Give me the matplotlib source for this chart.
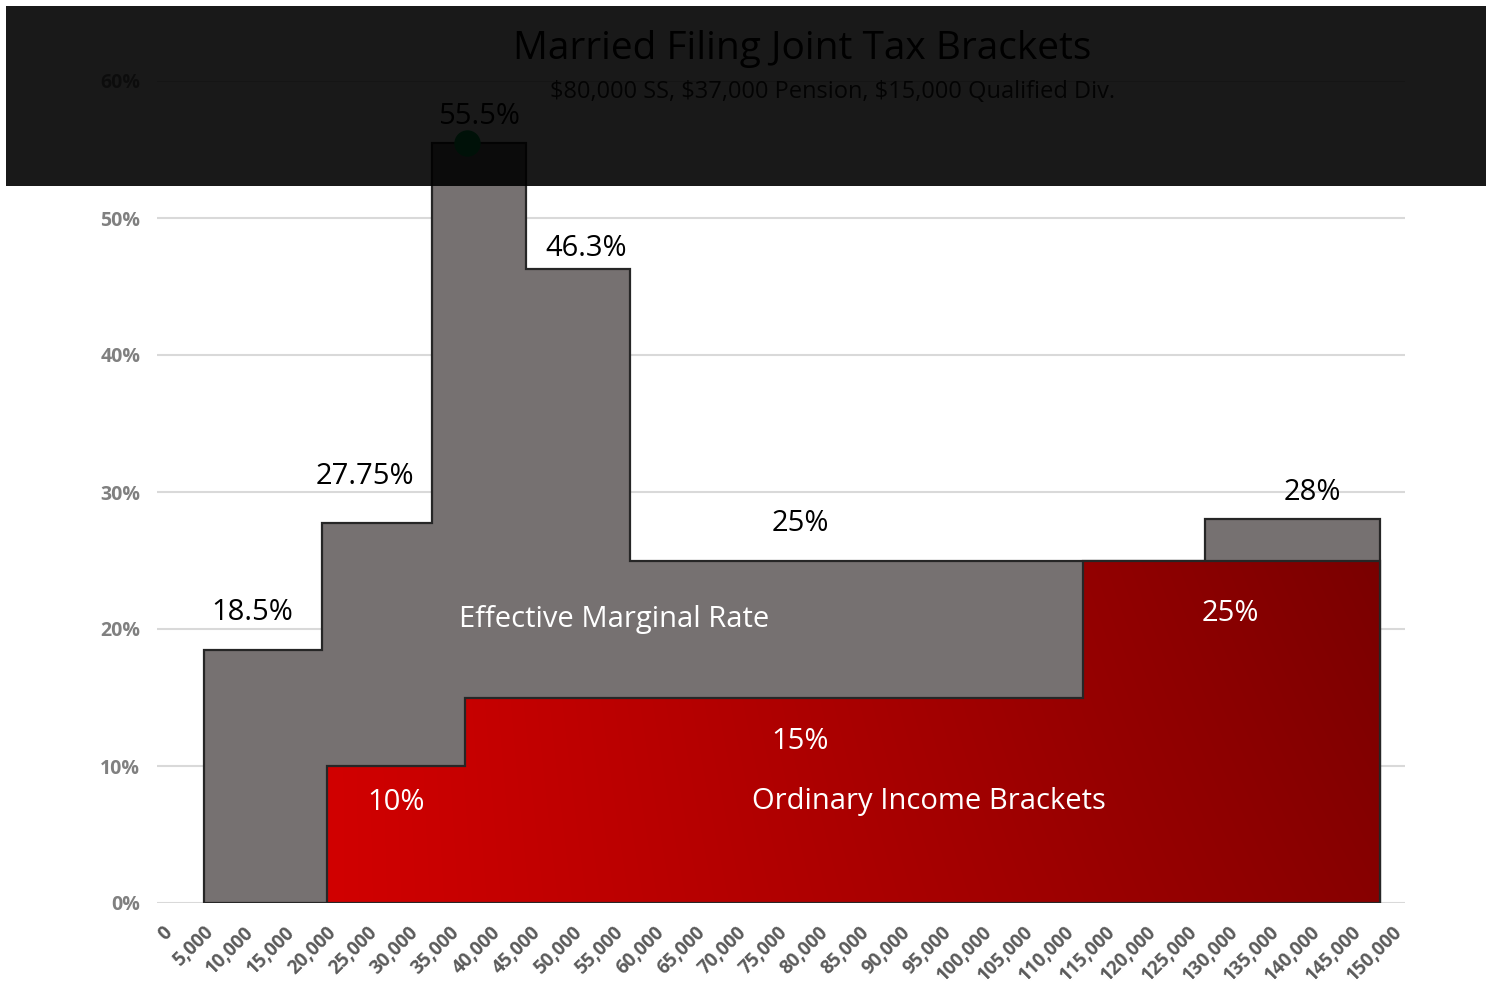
import numpy as np
import matplotlib.pyplot as plt
from matplotlib.patches import Polygon, Rectangle
from matplotlib.ticker import FixedLocator, FuncFormatter

plt.rcParams['font.family'] = ['Open Sans', 'DejaVu Sans']

# Effective marginal rate steps (income break points in $, rate in %)
emr_edges = [5100, 19500, 32900, 44400, 57100, 127200, 148500]
emr_rates = [18.5, 27.75, 55.5, 46.3, 25, 28]

# Ordinary income brackets
ord_edges = [20100, 37000, 112300, 148500]
ord_rates = [10, 15, 25]

x_ticks = np.arange(0, 150001, 5000)
y_ticks = np.arange(0, 61, 10)

title = "Married Filing Joint Tax Brackets"
subtitle = "\\$80,000 SS, \\$37,000 Pension, \\$15,000 Qualified Div."


def step_outline(edges, rates):
    # closed outline of a step area sitting on the zero line
    pts = [(edges[0], 0)]
    for i, r in enumerate(rates):
        pts.append((edges[i], r))
        pts.append((edges[i + 1], r))
    pts.append((edges[-1], 0))
    return pts


fig = plt.figure(figsize=(14.94, 9.9), dpi=100)
ax = fig.add_axes([157 / 1494, 87 / 990, 1248 / 1494, 822 / 990])

ax.set_xlim(-610, 151585)
ax.set_ylim(0, 60)

# gridlines
for y in y_ticks:
    ax.axhline(y, color='#d9d9d9', lw=1.5, zorder=0)

# grey effective marginal rate area
emr_poly = Polygon(step_outline(emr_edges, emr_rates), closed=True,
                   facecolor='#767171', edgecolor='#262626', lw=1.6, zorder=2)
ax.add_patch(emr_poly)

# red ordinary brackets, filled with a left-to-right gradient
ord_poly = Polygon(step_outline(ord_edges, ord_rates), closed=True,
                   facecolor='none', edgecolor='#262626', lw=1.6, zorder=4)
ax.add_patch(ord_poly)
gx = np.linspace(0, 1, 300)
gy = np.linspace(0, 1, 100)
GX, GY = np.meshgrid(gx, gy)
t = np.clip(0.85 * GX + 0.15 * GX * GY, 0, 1)
left = np.array([0.82, 0.0, 0.0])
right = np.array([0.48, 0.0, 0.0])
grad = left[None, None, :] * (1 - t[..., None]) + right[None, None, :] * t[..., None]
img = ax.imshow(grad, extent=[ord_edges[0], ord_edges[-1], 0, max(ord_rates)],
                origin='lower', aspect='auto', zorder=3, interpolation='bilinear')
img.set_clip_path(Polygon(step_outline(ord_edges, ord_rates), closed=True,
                          transform=ax.transData))

# marker at the peak
ax.plot([37200], [emr_rates[2]], 'o', color='#00b050', ms=18, zorder=6)

# rate labels
lab_kw = dict(fontsize=21, ha='center', va='center', zorder=7)
ax.text(11000, 21.2, f"{emr_rates[0]}%", color='black', **lab_kw)
ax.text(24750, 31.1, f"{emr_rates[1]}%", color='black', **lab_kw)
ax.text(38650, 57.4, f"{emr_rates[2]}%", color='black', **lab_kw)
ax.text(51700, 47.8, f"{emr_rates[3]}%", color='black', **lab_kw)
ax.text(77800, 27.7, f"{emr_rates[4]}%", color='black', **lab_kw)
ax.text(140350, 30.0, f"{emr_rates[5]}%", color='black', **lab_kw)
ax.text(55100, 20.7, "Effective Marginal Rate", color='white', **lab_kw)
ax.text(28550, 7.3, f"{ord_rates[0]}%", color='white', **lab_kw)
ax.text(77800, 11.8, f"{ord_rates[1]}%", color='white', **lab_kw)
ax.text(93550, 7.4, "Ordinary Income Brackets", color='white', **lab_kw)
ax.text(130350, 21.1, f"{ord_rates[2]}%", color='white', **lab_kw)

# axes styling
for s in ax.spines.values():
    s.set_visible(False)
ax.xaxis.set_major_locator(FixedLocator(x_ticks))
ax.xaxis.set_major_formatter(FuncFormatter(lambda v, p: f"{int(v):,}"))
ax.yaxis.set_major_locator(FixedLocator(y_ticks))
ax.yaxis.set_major_formatter(FuncFormatter(lambda v, p: f"{int(v)}%"))
ax.tick_params(axis='both', length=0)
ax.tick_params(axis='y', pad=12, labelsize=14, labelcolor='#808080')
ax.tick_params(axis='x', pad=14, labelsize=13.5, labelcolor='#5a5a5a')
for lab in ax.get_yticklabels():
    lab.set_fontweight('bold')
for lab in ax.get_xticklabels():
    lab.set_fontweight('bold')
    lab.set_rotation(45)
    lab.set_ha('right')
    lab.set_va('top')
    lab.set_rotation_mode('anchor')

# titles
fig.text(802 / 1494, 1 - 49 / 990, title, fontsize=28, ha='center', va='center',
         color='black', zorder=5)
fig.text(550 / 1494, 1 - 92 / 990, subtitle, fontsize=17, ha='left', va='center',
         color='#262626', zorder=5)

# dark band across the top
fig.patches.append(Rectangle((6 / 1494, 1 - 186 / 990), 1480 / 1494, 180 / 990,
                             transform=fig.transFigure, facecolor='black',
                             alpha=0.9, edgecolor='none', zorder=10))

fig.savefig('out.png', dpi=100)
